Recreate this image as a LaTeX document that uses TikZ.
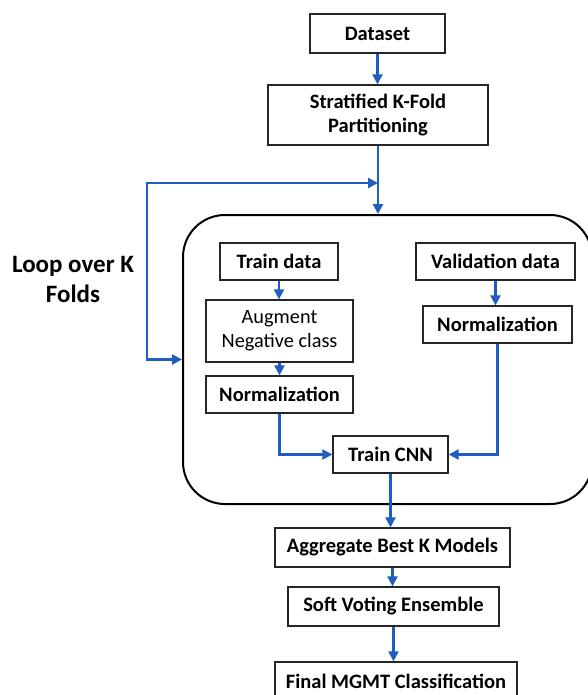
\documentclass[tikz,border=0pt]{standalone}
\usepackage{fontspec}
\setmainfont{Carlito}
\usetikzlibrary{arrows.meta}
\definecolor{arrowblue}{HTML}{1F5DBE}
\definecolor{boxline}{HTML}{262626}
\tikzset{
  box/.style={draw=boxline, line width=1.3pt, fill=white, align=center, inner sep=1pt,
    font=\fontsize{20.5}{24}\selectfont\bfseries},
  plainbox/.style={box, font=\fontsize{20.3}{24}\selectfont},
  flow/.style={draw=arrowblue, line width=2.2pt, -{Triangle[length=10pt,width=10pt]}},
  loopbox/.style={draw=black, line width=2pt, rounded corners=42pt},
}
\begin{document}
\begin{tikzpicture}[x=1pt,y=-1pt]
\useasboundingbox (0,0) rectangle (587,695);
\fill[white] (0,0) rectangle (587,695);

\node[loopbox, minimum width=409pt, minimum height=289pt] (loop) at (387.5,359.5) {};

\node[box, minimum width=135pt, minimum height=39pt] (ds) at (377.5,33.5) {Dataset};
\node[box, minimum width=220pt, minimum height=60pt] (skf) at (378,115) {Stratified K-Fold\\Partitioning};

\node[box, minimum width=118pt, minimum height=37pt] (td) at (279,261.5) {Train data};
\node[plainbox, minimum width=147pt, minimum height=62pt] (aug) at (279.5,331) {Augment\\Negative class};
\node[box, minimum width=147pt, minimum height=37pt] (nl) at (279.5,394.5) {Normalization};
\node[box, minimum width=159pt, minimum height=37pt] (vd) at (495.5,261.5) {Validation data};
\node[box, minimum width=149pt, minimum height=37pt] (nr) at (497.5,324.5) {Normalization};
\node[box, minimum width=115pt, minimum height=37pt] (cnn) at (390.5,454.5) {Train CNN};

\node[box, minimum width=235pt, minimum height=39pt] (agg) at (392.5,547.5) {Aggregate Best K Models};
\node[box, minimum width=211pt, minimum height=39pt] (svt) at (393.5,606.5) {Soft Voting Ensemble};
\node[box, minimum width=242pt, minimum height=39pt] (fin) at (396,681.5) {Final MGMT Classification};

\node[align=center, font=\fontsize{25}{30}\selectfont\bfseries] (looptxt) at (73,279) {Loop over K\\Folds};

\coordinate (j) at (377,183);
\coordinate (lc1) at (147,183);
\coordinate (lc2) at (147,359.5);

\draw[flow] (ds.south) -- (ds.south |- skf.north);
\draw[flow] (skf.south) -- (skf.south |- loop.north);
\draw[draw=arrowblue, line width=2.2pt, {Triangle[length=10pt,width=10pt]}-{Triangle[length=10pt,width=10pt]}]
  (skf.south |- j) -- (lc1) -- (lc2) -- (loop.west);

\draw[flow] (td.south) -- (td.south |- aug.north);
\draw[flow] (aug.south) -- (aug.south |- nl.north);
\draw[flow] (vd.south) -- (vd.south |- nr.north);
\draw[flow] (nl.south) |- (cnn.west);
\draw[flow] (nr.south) |- (cnn.east);
\draw[flow] (cnn.south) -- (cnn.south |- agg.north);
\draw[flow] (agg.south) -- (agg.south |- svt.north);
\draw[flow] (svt.south) -- (svt.south |- fin.north);
\end{tikzpicture}
\end{document}
